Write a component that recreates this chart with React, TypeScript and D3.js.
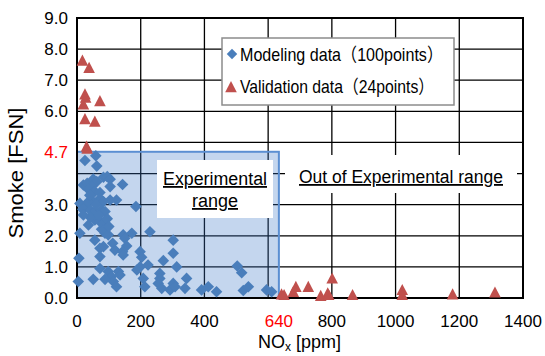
import * as d3 from "d3"

// modeling data (NOx ppm, smoke FSN)
const modelNox = [
  25, 59, 62, 20, 32, 51, 62, 46, 36, 56, 72, 83, 95, 104, 143, 46, 72, 104, 124, 9,
  25, 36, 18, 41, 56, 77, 88, 185, 56, 72, 36, 83, 93, 77, 88, 9, 229, 145, 172, 150,
  56, 112, 83, 72, 119, 156, 143, 145, 72, 198, 203, 302, 302, 6, 198, 188, 271, 313, 223, 72,
  98, 108, 130, 135, 114, 88, 51, 4, 260, 260, 255, 208, 213, 266, 292, 302, 308, 344, 339, 391,
  412, 438, 503, 517, 522, 538, 595, 611, 124, 41, 20, 83, 98, 104, 83, 40, 60, 95, 100, 70,
]
const modelSmoke = [
  4.42, 4.57, 4.24, 3.63, 3.69, 3.82, 3.74, 3.58, 3.49, 3.42, 3.39, 3.88, 3.9, 3.82, 3.65, 3.15, 3.2, 3.15, 3.15, 3.04,
  2.94, 3.1, 2.85, 2.83, 2.78, 2.83, 2.78, 2.94, 2.51, 2.45, 2.35, 2.4, 2.24, 2.21, 2.08, 2.08, 2.13, 2.03, 2.08, 1.92,
  1.86, 1.76, 1.65, 1.6, 1.54, 1.67, 1.49, 1.38, 1.33, 1.49, 1.31, 1.86, 1.44, 1.28, 1.0, 0.9, 1.2, 1.0, 1.06, 0.95,
  0.85, 0.69, 0.85, 0.74, 0.53, 0.6, 0.6, 0.53, 0.79, 0.63, 0.47, 0.63, 0.36, 0.31, 0.26, 0.47, 0.36, 0.63, 0.31, 0.26,
  0.36, 0.2, 1.03, 0.81, 0.24, 0.36, 0.26, 0.2, 0.36, 2.6, 2.67, 2.18, 2.03, 3.58, 3.1, 3.3, 3.0, 2.55, 2.3, 2.65,
]

// validation data
const valNox = [17, 38, 25, 27, 20, 72, 25, 56, 30, 32, 642, 650, 679, 687, 726, 765, 787, 790, 801, 865, 1021, 1021, 1179, 1312]
const valSmoke = [7.63, 7.4, 6.55, 6.44, 6.23, 6.33, 5.75, 5.67, 4.87, 4.8, 0.12, 0.1, 0.2, 0.36, 0.36, 0.07, 0.15, 0.1, 0.63, 0.1, 0.26, 0.1, 0.12, 0.18]

const xGrid = [0, 200, 400, 600, 800, 1000, 1200, 1400]
const xLabels = [0, 200, 400, 640, 800, 1000, 1200, 1400]
const yGrid = [0, 1, 2, 3, 4, 5, 6, 7, 8, 9]
const yLabels = [0, 1, 2, 3, 4.7, 6, 7, 8, 9]
const expNox = 640
const expSmoke = 4.7

const blue = "#4a7ebb"
const red = "#c0504d"
const font = "'Liberation Sans', Arial, sans-serif"

const diamond = "M0,-5.8L5.8,0L0,5.8L-5.8,0Z"
const triangle = "M0,-6L5.8,5.2L-5.8,5.2Z"

export default function App() {
  const width = 545
  const height = 356

  const x = d3.scaleLinear().domain([0, 1400]).range([77, 523])
  const y = d3.scaleLinear().domain([0, 9]).range([298, 18])

  const model = modelNox.map((n, i) => ({ n, s: modelSmoke[i] }))
  const val = valNox.map((n, i) => ({ n, s: valSmoke[i] }))

  return (
    <svg
      width={width}
      height={height}
      style={{ position: "absolute", left: 0, top: 0, background: "#fff" }}
      fontFamily={font}
    >
      {/* grid */}
      {xGrid.map((t) => (
        <line key={"gx" + t} x1={x(t)} x2={x(t)} y1={y(9)} y2={y(0)} stroke="#000" strokeWidth={1.3} />
      ))}
      {yGrid.map((t) => (
        <line key={"gy" + t} x1={x(0)} x2={x(1400)} y1={y(t)} y2={y(t)} stroke="#000" strokeWidth={1.3} />
      ))}

      {/* experimental range box */}
      <rect
        x={x(0)}
        y={y(expSmoke)}
        width={x(expNox) - x(0) - 2}
        height={y(0) - y(expSmoke)}
        fill="rgb(60,120,200)"
        fillOpacity={0.3}
        stroke="#5b8fd2"
        strokeWidth={2}
      />

      {/* frame */}
      <rect x={x(0)} y={y(9)} width={x(1400) - x(0)} height={y(0) - y(9)} fill="none" stroke="#000" strokeWidth={2} />

      {/* annotation boxes */}
      <rect x={157} y={160} width={116} height={58} fill="#fff" />
      <text x={215} y={185} textAnchor="middle" fontSize={18} textDecoration="underline" textLength={104} lengthAdjust="spacingAndGlyphs">
        Experimental
      </text>
      <text x={215} y={207} textAnchor="middle" fontSize={18} textDecoration="underline">
        range
      </text>

      <rect x={285} y={155} width={232} height={38} fill="#fff" />
      <text x={299} y={183} fontSize={18} textDecoration="underline" textLength={204} lengthAdjust="spacingAndGlyphs">
        Out of Experimental range
      </text>

      {/* points */}
      {model.map((d, i) => (
        <path key={"m" + i} d={diamond} transform={`translate(${x(d.n)},${y(d.s)})`} fill={blue} />
      ))}
      {val.map((d, i) => (
        <path key={"v" + i} d={triangle} transform={`translate(${x(d.n)},${y(d.s)})`} fill={red} />
      ))}

      {/* legend */}
      <rect x={222} y={38} width={232} height={67} fill="#fff" stroke="#8c8c8c" strokeWidth={1.5} />
      <path d={diamond} transform="translate(232,54) scale(0.9)" fill={blue} />
      <text x={240} y={61} fontSize={18.5} fontFamily={font + ", 'Noto Sans CJK JP'"} textLength={203} lengthAdjust="spacingAndGlyphs">
        Modeling data（100points）
      </text>
      <path d={triangle} transform="translate(231,87)" fill={red} />
      <text x={240} y={93} fontSize={18.5} fontFamily={font + ", 'Noto Sans CJK JP'"} textLength={194} lengthAdjust="spacingAndGlyphs">
        Validation data（24points）
      </text>

      {/* y tick labels */}
      {yLabels.map((t) => (
        <text
          key={"yl" + t}
          x={68}
          y={y(t)}
          dy="0.36em"
          textAnchor="end"
          fontSize={17}
          fill={t === expSmoke ? "#ff0000" : "#000"}
        >
          {t.toFixed(1)}
        </text>
      ))}

      {/* x tick labels */}
      {xLabels.map((t) => (
        <text
          key={"xl" + t}
          x={t === expNox ? x(t) - 2 : x(t)}
          y={327}
          textAnchor="middle"
          fontSize={17}
          fill={t === expNox ? "#ff0000" : "#000"}
        >
          {t}
        </text>
      ))}

      {/* axis titles */}
      <text transform="translate(23,173) rotate(-90)" textAnchor="middle" fontSize={20} textLength={131} lengthAdjust="spacingAndGlyphs">
        Smoke [FSN]
      </text>
      <text x={258} y={348} fontSize={18}>
        NO<tspan fontSize={12} dy={3}>x</tspan>
        <tspan dy={-3}> [ppm]</tspan>
      </text>
    </svg>
  )
}
